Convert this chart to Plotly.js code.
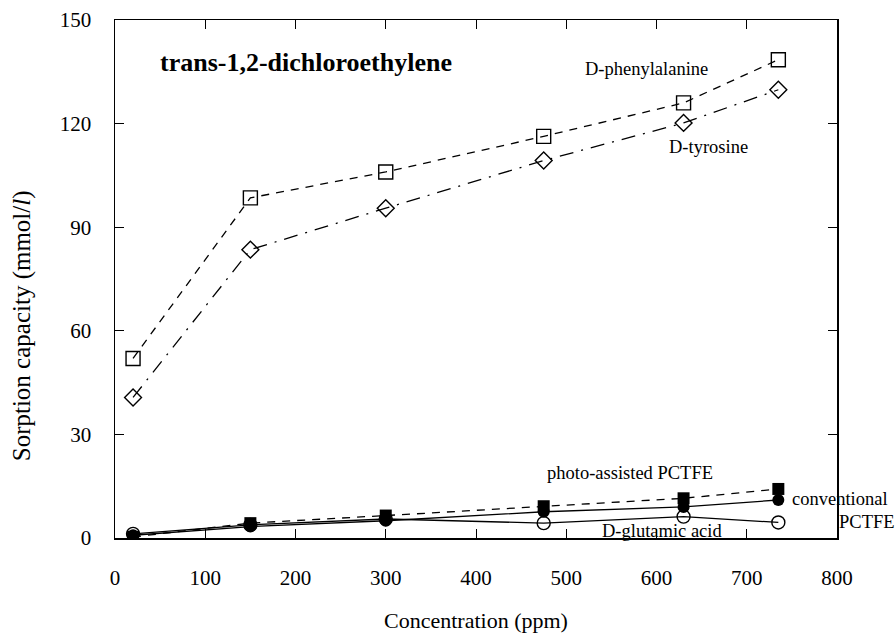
<!DOCTYPE html>
<html>
<head>
<meta charset="utf-8">
<script src="https://cdn.plot.ly/plotly-3.0.1.min.js"></script>
<style>html,body{margin:0;padding:0;background:#fff}#chart{width:895px;height:642px}</style>
</head>
<body>
<div id="chart"></div>
<script>
// Data
const concentration = [20, 150, 300, 475, 630, 735];
const phenylalanine = [52, 98.5, 106, 116.3, 126, 138.5];
const tyrosine = [40.7, 83.5, 95.5, 109.3, 120.2, 129.8];
const photoPCTFE = [0.3, 4.3, 6.5, 9.2, 11.5, 14.2];
const conventionalPCTFE = [0.8, 3.3, 5.0, 7.6, 9.0, 11.0];
const glutamic = [1.2, 3.8, 5.5, 4.3, 6.2, 4.5];

// Axis tick settings
const xMax = 800, xTickStep = 100;
const yMax = 150, yTickStep = 30;

const serif = "Liberation Serif, Times New Roman, serif";
const lw = 1.3;

const traces = [
  {x: concentration, y: glutamic, mode: 'lines+markers', line: {color: '#000', width: lw, dash: 'solid'},
   marker: {symbol: 'circle-open', size: 13, color: '#000', line: {width: 1.4}}},
  {x: concentration, y: conventionalPCTFE, mode: 'lines+markers', line: {color: '#000', width: lw, dash: 'solid'},
   marker: {symbol: 'circle', size: 12, color: '#000'}},
  {x: concentration, y: photoPCTFE, mode: 'lines+markers', line: {color: '#000', width: lw, dash: '8px,7px'},
   marker: {symbol: 'square', size: 12, color: '#000'}},
  {x: concentration, y: phenylalanine, mode: 'lines+markers', line: {color: '#000', width: lw, dash: '8px,7px'},
   marker: {symbol: 'square-open', size: 14, color: '#000', line: {width: 1.4}}},
  {x: concentration, y: tyrosine, mode: 'lines+markers', line: {color: '#000', width: lw, dash: '14px,8px,2px,8px'},
   marker: {symbol: 'diamond-open', size: 13, color: '#000', line: {width: 1.4}}}
];

const ann = (text, x, y, size, opts) => Object.assign({
  text: text, x: x, y: y, xref: 'x', yref: 'y', showarrow: false,
  font: {family: serif, size: size, color: '#000000'}
}, opts || {});

const layout = {
  width: 895, height: 642,
  margin: {l: 115, r: 58, t: 20, b: 104},
  paper_bgcolor: '#fff', plot_bgcolor: '#fff',
  showlegend: false,
  font: {family: serif, color: '#000'},
  xaxis: {
    range: [0, xMax], tickmode: 'linear', tick0: 0, dtick: xTickStep,
    ticks: 'inside', ticklen: 9, tickwidth: 1, tickcolor: '#000',
    showline: true, linecolor: '#000', linewidth: 1.5, mirror: 'allticks',
    showgrid: false, zeroline: false,
    tickfont: {family: serif, size: 21, color: '#000'},
    ticklabelstandoff: 20,
    title: {text: 'Concentration (ppm)', font: {family: serif, size: 22, color: '#000'}, standoff: 24}
  },
  yaxis: {
    range: [0, yMax], tickmode: 'linear', tick0: 0, dtick: yTickStep,
    ticks: 'inside', ticklen: 9, tickwidth: 1, tickcolor: '#000',
    showline: true, linecolor: '#000', linewidth: 1.5, mirror: 'allticks',
    showgrid: false, zeroline: false,
    tickfont: {family: serif, size: 21, color: '#000'},
    ticklabelstandoff: 18,
    title: {text: 'Sorption capacity (mmol/<i>l</i>)' + '&nbsp;'.repeat(15), font: {family: serif, size: 25, color: '#000'}, standoff: 22}
  },
  annotations: [
    ann('<b>trans-1,2-dichloroethylene</b>', 212, 137.6, 26),
    ann('D-phenylalanine', 589, 135.8, 18.5),
    ann('D-tyrosine', 658, 113.2, 18.5),
    ann('photo-assisted PCTFE', 571, 18.8, 18.5),
    ann('conventional', 748, 11.3, 18.5, {xanchor: 'left'}),
    ann('PCTFE', 1.0, 4.6, 18.5, {xref: 'paper', xanchor: 'left'}),
    ann('D-glutamic acid', 606, 2.0, 18.5)
  ]
};

Plotly.newPlot('chart', traces, layout, {displayModeBar: false, staticPlot: true});
</script>
</body>
</html>
